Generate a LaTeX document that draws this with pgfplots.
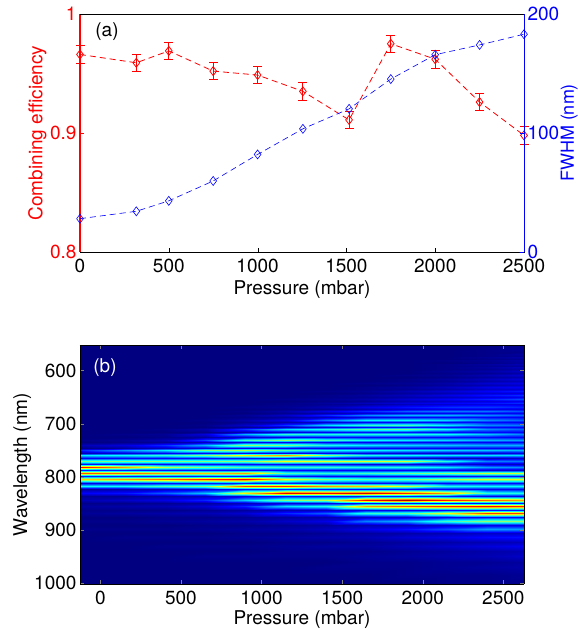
\documentclass[border=0pt]{standalone}
\usepackage{pgfplots}
\usepackage{pgfplotstable}
\pgfplotsset{compat=1.18}
\usepackage{fontspec}
\setmainfont{TeX Gyre Heros}
\pgfplotstableread{
w -126 150 400 650 900 1150 1400 1650 1900 2150 2400 2628
550 0 0 0 0 0 0 0 0 0 0 0 1
562 0 0 0 0 0 0 0 0 0 0 1 2
565 0 0 0 0 0 0 0 0 0 0 1 1
568 0 0 0 0 0 0 0 0 0 0 1 3
572 0 0 0 0 0 0 0 0 0 0 1 2
575 0 0 0 0 0 0 0 0 0 0 2 4
578 0 0 0 0 0 0 0 0 0 0 1 2
581 0 0 0 0 0 0 0 0 0 1 2 4
585 0 0 0 0 0 0 0 0 0 0 1 3
588 0 0 0 0 0 0 0 0 0 1 3 5
591 0 0 0 0 0 0 0 0 0 1 2 3
594 0 0 0 0 0 0 0 0 0 1 3 6
598 0 0 0 0 0 0 0 0 0 1 2 4
601 0 0 0 0 0 0 0 0 0 2 4 7
605 0 0 0 0 0 0 0 0 0 1 2 4
609 0 0 0 0 0 0 0 0 1 2 5 8
612 0 0 0 0 0 0 0 0 0 1 3 5
616 0 0 0 0 0 0 0 0 1 3 6 9
620 0 0 0 0 0 0 0 0 1 2 4 6
624 0 0 0 0 0 0 0 1 2 4 8 10
628 0 0 0 0 0 0 0 0 1 3 5 7
631 0 0 0 0 0 0 0 1 3 6 10 12
635 0 0 0 0 0 0 0 1 2 4 7 8
639 0 0 0 0 0 0 1 2 5 8 12 15
642 0 0 0 0 0 0 0 1 3 5 8 9
646 0 0 0 0 0 0 1 3 6 10 14 17
650 0 0 0 0 0 0 1 2 4 6 9 11
654 0 0 0 0 0 1 2 4 8 12 16 20
657 0 0 0 0 0 0 1 2 5 7 9 11
661 0 0 0 0 0 1 3 6 9 12 14 17
664 0 0 0 0 0 1 2 3 6 8 10 10
668 0 0 0 0 1 2 5 10 14 17 18 16
672 0 0 0 0 0 1 2 5 8 10 10 10
676 0 0 0 0 1 4 10 16 22 24 24 20
680 0 0 0 0 0 2 4 8 11 12 12 11
684 0 0 0 0 2 7 16 26 30 30 26 22
688 0 0 0 0 1 3 6 10 12 13 13 12
693 0 0 0 1 4 10 24 36 37 34 26 22
697 0 0 0 0 2 4 8 12 13 13 13 12
702 0 0 0 1 7 18 34 42 44 36 26 24
706 0 0 0 0 2 6 10 13 14 14 13 12
711 0 0 1 4 18 34 40 46 48 38 26 22
715 0 0 0 1 5 9 12 14 14 13 13 12
720 0 1 2 9 30 42 40 40 40 38 32 25
725 0 0 1 3 8 11 13 13 13 13 13 12
730 1 2 5 19 43 52 44 38 36 34 30 28
735 0 1 2 6 11 12 12 12 12 12 12 12
740 5 9 17 30 52 50 40 36 34 32 30 30
745 1 3 7 10 12 12 12 12 12 12 12 12
750 16 27 36 50 55 45 38 37 35 33 32 30
755 5 9 12 13 13 12 12 10 9 8 8 10
760 36 38 42 50 64 72 52 40 38 36 35 34
765 12 13 13 14 14 14 12 8 7 6 6 8
771 48 50 50 50 52 62 60 60 58 40 25 24
776 14 13 13 13 13 13 12 10 10 9 7 6
782 88 72 56 50 45 42 42 40 40 36 28 26
787 15 15 14 14 13 13 12 12 12 11 8 7
793 80 78 72 68 72 45 42 44 48 52 58 58
799 15 15 15 15 14 14 13 13 13 13 14 14
805 66 72 78 85 90 62 50 46 48 54 60 60
811 10 11 13 14 15 16 14 13 13 13 13 13
817 38 38 45 50 82 84 72 68 58 40 38 38
824 3 4 6 9 14 16 14 13 13 12 11 11
830 12 14 22 32 64 90 88 92 84 72 42 40
836 2 2 4 6 10 14 14 15 15 14 11 11
843 5 7 10 16 32 50 55 88 96 85 78 72
850 1 1 2 3 6 9 10 13 14 14 14 14
856 3 4 5 8 16 34 40 72 80 85 88 85
862 1 1 1 2 3 5 6 10 11 13 14 14
869 2 3 4 5 8 16 22 42 46 62 82 82
876 0 0 1 1 2 3 4 7 8 11 13 13
884 1 1 2 3 4 7 10 25 30 44 52 52
891 0 0 0 1 1 2 3 5 6 8 10 10
899 1 1 1 2 3 4 6 10 14 20 28 28
906 0 0 0 0 1 1 2 3 4 5 7 7
914 0 1 1 1 2 3 4 5 8 10 13 14
922 0 0 0 0 0 1 1 2 3 4 5 6
931 0 0 1 1 1 2 3 3 5 7 9 11
940 0 0 0 0 0 1 1 1 2 3 4 5
949 0 0 0 1 1 1 1 2 3 4 5 7
960 0 0 0 0 0 0 0 1 1 2 2 3
970 0 0 0 0 0 0 1 1 1 2 3 4
985 0 0 0 0 0 0 0 0 1 1 1 2
1002 0 0 0 0 0 0 0 0 0 1 1 1
}\hm
\pgfplotstablegetrowsof{\hm}\pgfmathtruncatemacro{\lastrow}{\pgfplotsretval-1}
\gdef\hmcoords{}
\foreach \r in {0,...,\lastrow}{%
  \pgfplotstablegetelem{\r}{w}\of\hm \edef\wv{\pgfplotsretval}%
  \foreach \c in {-126,150,400,650,900,1150,1400,1650,1900,2150,2400,2628}{%
    \pgfplotstablegetelem{\r}{\c}\of\hm
    \xdef\hmcoords{\hmcoords (\c,\wv,\pgfplotsretval)}%
  }%
}
\pgfplotsset{
  hmstyle/.style={surf,shader=interp,mesh/cols=12},
  common/.style={scale only axis,width=444pt,
    /pgf/number format/assume math mode=true,
    /pgf/number format/1000 sep={},
    tick label style={font=\fontsize{19}{19}\selectfont},
    label style={font=\fontsize{19}{19}\selectfont},
    tick align=inside, major tick length=4pt, minor tick length=0pt},
}
\begin{document}
\begin{tikzpicture}[x=1pt,y=1pt]
\useasboundingbox (0,0) rectangle (578,629);
% panel (a), left
\begin{axis}[common,at={(80pt,377pt)},anchor=south west,height=238pt,clip=false,
  xmin=0,xmax=2500,ymin=0.8,ymax=1,
  xtick={0,500,1000,1500,2000,2500},ytick={0.8,0.9,1},
  xtick pos=lower,ytick pos=left,
  y tick style={red,thick},x tick style={black},
  yticklabel style={red},
  xlabel={Pressure (mbar)},ylabel={Combining efficiency},
  ylabel style={red,at={(rel axis cs:0,0.5)},anchor=south,yshift=30pt},
  xlabel style={yshift=-1pt},
  xticklabel style={yshift=-3pt},
  axis line style={black,thick},
  unbounded coords=jump,
]
\draw[red,line width=1.6pt] (rel axis cs:0,0)--(rel axis cs:0,1);
% error bars, low and high end of each
\addplot[red,solid,line width=0.8pt,mark=-,mark size=4.5pt,mark options={solid,red}]
 coordinates {
 (0,0.9587) (0,0.9733) (0,nan)
 (317,0.9516) (317,0.9664) (317,nan)
 (500,0.9618) (500,0.9762) (500,nan)
 (750,0.9447) (750,0.9593) (750,nan)
 (1000,0.9417) (1000,0.9557) (1000,nan)
 (1255,0.9276) (1255,0.9424) (1255,nan)
 (1515,0.9037) (1515,0.9183) (1515,nan)
 (1750,0.9678) (1750,0.9822) (1750,nan)
 (2000,0.9547) (2000,0.9693) (2000,nan)
 (2250,0.9187) (2250,0.9333) (2250,nan)
 (2500,0.8906) (2500,0.9054)
 };
\addplot[red,dash pattern=on 6pt off 4pt,line width=0.8pt,mark=diamond,mark size=4.5pt,
  mark options={solid,red}]
 coordinates {
 (0,0.966)
 (317,0.959)
 (500,0.969)
 (750,0.952)
 (1000,0.9487)
 (1255,0.935)
 (1515,0.911)
 (1750,0.975)
 (2000,0.962)
 (2250,0.926)
 (2500,0.898)
 };
\node[anchor=center,font=\fontsize{19}{19}\selectfont] at (axis cs:152,0.985) {(a)};
\end{axis}
% panel (a), right
\begin{axis}[common,at={(80pt,377pt)},anchor=south west,height=238pt,clip=false,
  xmin=0,xmax=2500,ymin=0,ymax=200,
  hide axis,
]
\addplot[blue,dash pattern=on 6pt off 4pt,line width=0.6pt,mark=diamond,mark size=4.5pt,mark options={solid}]
 coordinates {(0,28) (317,34.2) (500,43) (750,59.7) (1000,82) (1255,103.5) (1515,120.3) (1750,145.3) (2000,165.8) (2250,174) (2500,183)};
\node[blue,rotate=90,font=\fontsize{18}{18}\selectfont] at (rel axis cs:1.102,0.5) {FWHM (nm)};
\end{axis}
% right spine, ticks and numbers of panel (a)
\begin{axis}[common,at={(80pt,377pt)},anchor=south west,height=238pt,
  xmin=0,xmax=2500,ymin=0,ymax=200,
  xtick=\empty,ytick={0,100,200},
  axis x line*=top,axis y line*=right,
  y tick style={blue},yticklabel style={blue},
  x axis line style={black,thick,-},y axis line style={blue,-},
]
\addplot[draw=none] coordinates {(0,0)};
\end{axis}
% panel (b)
\begin{axis}[common,at={(80pt,45pt)},anchor=south west,height=239pt,
  view={0}{90},axis on top,y dir=reverse,
  xmin=-126,xmax=2628,ymin=552,ymax=1002,
  xtick={0,500,1000,1500,2000,2500},ytick={600,700,800,900,1000},
  colormap/jet,point meta min=0,point meta max=100,
  xlabel={Pressure (mbar)},ylabel={Wavelength (nm)},
  xlabel style={yshift=1pt},ylabel style={yshift=-4pt},
  xticklabel style={yshift=-3pt},
  axis line style={black,thick},
]
\begingroup\edef\x{\endgroup\noexpand\addplot3[hmstyle] coordinates {\hmcoords};}\x
\node[anchor=center,white,font=\fontsize{19}{19}\selectfont] at (axis cs:29,595) {(b)};
\end{axis}
\end{tikzpicture}
\end{document}
